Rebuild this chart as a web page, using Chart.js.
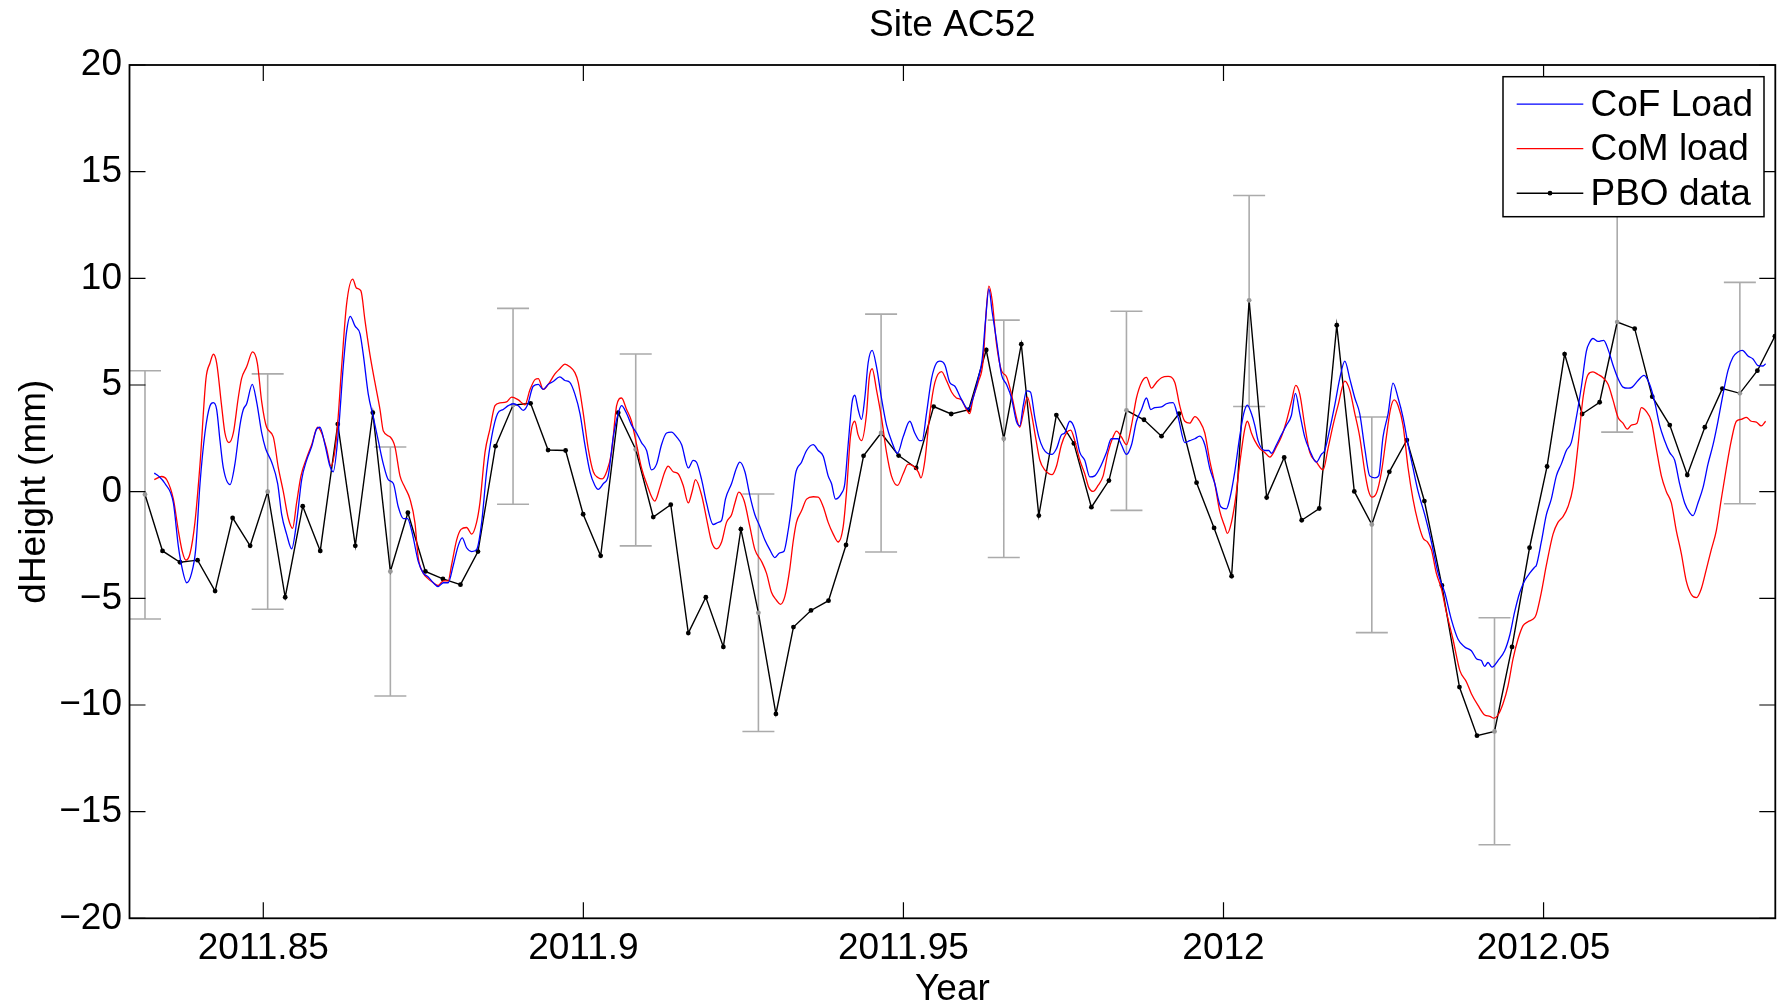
<!DOCTYPE html>
<html><head><meta charset="utf-8">
<script src="https://cdn.jsdelivr.net/npm/chart.js@4.4.1/dist/chart.umd.min.js"></script>
<style>html,body{margin:0;padding:0;background:#fff;}canvas{display:block;}</style>
</head><body>
<canvas id="c" width="1781" height="1001"></canvas>
<script>
// ---- data ----
const pboStart = 2011.83152;      // decimal year of first daily PBO solution
const dayLen = 1 / 365.25;        // one day in years

const pboValues = [-0.13,-2.78,-3.31,-3.21,-4.66,-1.23,-2.54,0.00,-4.95,-0.68,
 -2.78,3.17,-2.54,3.70,-3.74,-0.99,-3.74,-4.09,-4.36,-2.81,
 2.13,4.06,4.14,1.95,1.93,-1.06,-3.01,3.70,1.98,-1.19,
 -0.61,-6.63,-4.95,-7.28,-1.76,-5.68,-10.42,-6.35,-5.57,-5.11,
 -2.50,1.68,2.75,1.69,1.11,3.99,3.64,3.84,6.64,2.48,
 6.91,-1.12,3.59,2.26,-0.73,0.52,3.81,3.37,2.60,3.66,
 0.42,-1.70,-3.96,8.97,-0.28,1.60,-1.34,-0.79,7.80,0.01,
 -1.54,0.93,2.42,-0.44,-4.40,-9.16,-11.44,-11.24,-7.28,-2.63,
 1.18,6.45,3.64,4.19,7.95,7.64,4.45,3.12,0.78,3.02,
 4.83,4.61,5.67,7.29];

const errDays = [0,7,14,21,28,35,42,49,56,63,70,77,84,91];
const errLow  = [-5.97,-5.51,-9.58,-0.59,-2.54,-11.24,-2.83,-3.09,-0.88,3.99,-6.61,-16.55,2.79,-0.57];
const errHigh = [5.67,5.52,2.09,8.59,6.45,-0.11,8.32,8.04,8.46,13.88,3.50,-5.91,13.0,9.81];

const cofDays = [0.53,0.76,1.14,1.62,1.90,2.13,2.38,2.66,2.89,3.14,3.42,3.71,3.90,4.09,4.28,4.47,4.85,5.13,5.42,5.61,5.80,6.12,6.37,6.66,6.88,7.23,7.57,7.80,8.08,8.37,8.65,8.94,9.22,9.51,9.79,9.98,10.27,10.55,10.74,11.03,11.31,11.50,11.71,11.98,12.27,12.46,12.74,13.03,13.31,13.60,13.88,14.17,14.45,14.74,14.98,15.21,
15.31,15.59,15.88,16.16,16.45,16.73,17.02,17.30,17.59,17.87,18.10,18.35,18.64,18.92,19.21,19.49,19.78,20.12,20.44,20.73,21.01,21.30,21.58,21.83,22.15,22.44,22.72,23.01,23.29,23.67,23.96,24.24,24.53,24.82,25.10,25.39,25.67,25.86,26.15,26.43,26.72,27.00,27.19,27.48,27.76,28.05,28.33,28.62,28.90,29.19,29.47,29.76,30.04,30.33,30.62,31.00,
31.28,31.47,31.76,32.04,32.42,32.71,32.90,33.12,33.47,33.75,33.94,34.23,34.51,34.80,35.08,35.37,35.65,35.94,36.22,36.45,36.70,36.89,37.12,37.46,37.75,38.13,38.41,38.70,38.98,39.17,39.40,39.74,39.93,40.12,40.35,40.50,40.69,40.88,41.07,41.26,41.49,41.74,42.02,42.31,42.59,42.94,43.26,43.64,43.92,44.21,44.34,44.59,44.88,45.16,45.35,45.64,45.92,46.21,46.49,46.78,46.97,
47.25,47.54,47.77,47.96,48.15,48.34,48.58,48.87,49.15,49.44,49.72,49.91,50.11,50.30,50.52,50.77,51.00,51.25,51.49,51.76,52.01,52.29,52.48,52.77,53.05,53.34,53.62,53.91,54.19,54.48,54.86,55.14,55.52,55.71,56.00,56.29,56.57,56.86,57.14,57.39,57.62,58.00,58.28,58.66,58.95,59.33,59.61,59.90,60.18,60.47,60.75,61.04,61.38,61.70,61.89,62.18,62.46,62.69,62.90,63.13,63.32,
63.51,63.89,64.12,64.27,64.56,64.84,65.13,65.41,65.64,65.89,66.17,66.46,66.84,67.12,67.31,67.60,67.88,68.17,68.46,68.74,69.03,69.31,69.60,69.88,70.17,70.39,70.64,70.93,71.21,71.50,71.78,72.07,72.35,72.64,73.02,73.40,73.78,74.16,74.54,74.92,75.30,75.68,75.97,76.25,76.44,76.63,76.86,77.20,77.58,77.87,78.15,78.44,78.72,79.01,79.29,
79.39,79.67,79.96,80.24,80.53,80.81,81.10,81.38,81.67,81.96,82.24,82.43,82.62,82.91,83.23,83.48,83.76,84.05,84.33,84.62,84.86,85.19,85.53,85.85,86.14,86.42,86.71,86.99,87.28,87.56,87.85,88.14,88.33,88.61,88.90,89.18,89.47,89.75,90.04,90.32,90.61,90.89,91.14,91.46,91.75,92.03,92.32,92.47];
const cofValues = [0.87,0.74,0.38,-0.53,-2.54,-3.63,-4.27,-3.82,-2.72,0.38,2.75,4.03,4.17,3.85,2.39,1.11,0.33,1.29,3.12,3.85,4.12,5.03,4.21,2.75,2.02,1.38,0.38,-1.08,-1.99,-2.68,-1.44,0.56,1.47,2.11,2.93,3.02,2.20,1.20,0.93,2.75,5.85,7.49,8.22,7.77,7.40,6.40,4.57,3.48,2.39,1.29,0.56,0.38,-0.71,-1.26,-1.26,-1.81,
-2.17,-3.27,-3.82,-4.00,-4.27,-4.45,-4.27,-4.27,-3.45,-2.54,-2.17,-2.63,-2.81,-2.72,-1.44,0.93,2.57,3.66,3.85,4.03,4.12,4.03,3.81,4.07,4.94,5.03,4.79,5.03,5.16,5.38,5.21,5.12,4.57,3.66,2.20,0.93,0.29,0.11,0.38,0.74,2.57,3.66,4.03,3.66,3.12,2.75,2.30,1.93,1.02,1.29,2.20,2.75,2.79,2.57,2.20,1.11,
1.47,1.38,0.56,-0.53,-1.54,-1.44,-1.35,-0.35,0.38,1.11,1.38,0.93,-0.17,-1.08,-1.63,-2.27,-2.72,-3.09,-2.87,-2.81,-1.81,-0.71,0.84,1.38,1.93,2.20,1.93,1.66,0.74,0.38,-0.35,-0.08,0.38,2.20,4.21,4.52,3.85,3.39,4.39,6.03,6.62,5.85,4.39,3.12,2.39,1.80,2.57,3.30,2.75,2.39,2.39,3.66,5.30,6.03,6.12,5.94,5.12,4.94,4.48,4.03,3.85,
4.39,5.30,6.22,8.04,9.50,8.41,7.13,5.49,5.03,4.39,3.30,3.08,4.03,4.72,4.67,3.48,2.57,2.02,1.80,1.75,2.02,2.66,2.75,3.30,2.93,1.84,1.47,0.69,0.74,1.11,1.84,2.48,2.48,2.20,1.75,2.20,3.30,3.85,4.39,3.85,3.94,3.97,4.12,4.17,3.48,2.30,2.39,2.48,2.60,2.20,1.11,0.38,-0.71,-0.81,-0.35,0.93,2.57,3.66,4.06,3.66,3.12,
2.39,1.93,1.93,1.80,2.20,2.66,3.12,3.57,4.61,3.66,2.57,1.93,1.38,1.75,1.93,2.93,4.03,5.30,6.12,5.30,4.39,3.66,2.02,0.74,0.65,0.74,2.57,3.66,5.09,4.39,3.48,2.20,1.11,0.01,-1.08,-2.36,-3.82,-4.73,-6.00,-6.92,-7.28,-7.46,-7.83,-7.92,-8.19,-8.01,-8.23,-7.92,-7.46,-6.73,-5.64,-4.73,-4.18,-3.82,-3.54,
-3.45,-2.36,-1.08,-0.35,0.74,1.29,1.93,2.30,3.48,4.94,6.58,7.00,7.18,7.04,7.09,6.67,5.94,5.30,4.90,4.85,4.90,5.21,5.45,5.03,4.21,3.12,2.39,1.84,1.47,0.38,-0.53,-0.99,-1.12,-0.53,0.20,1.29,2.20,3.30,4.57,5.67,6.31,6.55,6.62,6.36,6.22,5.91,5.89,6.00];

const comDays = [0.53,0.95,1.24,1.62,1.90,2.13,2.34,2.57,2.85,3.14,3.48,3.71,3.90,4.09,4.37,4.56,4.79,5.04,5.32,5.51,5.80,6.14,6.41,6.66,6.94,7.32,7.61,7.89,8.18,8.42,8.65,8.90,9.22,9.51,9.85,10.08,10.36,10.61,10.93,11.22,11.50,11.85,12.07,12.32,12.55,12.84,13.12,13.41,13.60,13.98,14.26,14.55,14.83,15.12,15.40,
15.59,15.88,16.16,16.45,16.73,17.02,17.30,17.49,17.78,18.03,18.35,18.64,18.92,19.11,19.40,19.68,19.97,20.25,20.63,20.92,21.30,21.68,21.96,22.25,22.44,22.72,23.01,23.39,23.67,23.96,24.24,24.53,24.72,25.01,25.29,25.58,25.86,26.09,26.34,26.62,26.91,27.19,27.48,27.76,28.05,28.33,28.62,29.09,29.38,29.66,29.85,30.14,30.42,30.71,31.00,
31.22,31.41,31.76,32.04,32.33,32.61,32.90,33.18,33.47,33.66,33.88,34.19,34.51,34.80,35.18,35.46,35.75,36.03,36.26,36.51,36.79,36.98,37.17,37.46,37.75,38.13,38.41,38.70,38.98,39.27,39.55,39.84,40.03,40.25,40.50,40.69,40.88,41.17,41.32,41.49,41.74,42.02,42.31,42.59,42.94,43.26,43.54,43.83,44.12,44.27,44.50,44.78,45.07,45.45,45.73,46.02,46.30,46.59,46.87,47.06,
47.25,47.54,47.82,48.01,48.15,48.34,48.58,48.87,49.15,49.44,49.72,49.91,50.11,50.35,50.58,50.81,51.06,51.34,51.76,52.01,52.29,52.58,52.82,53.05,53.34,53.62,53.85,54.10,54.38,54.67,54.95,55.24,55.43,55.71,56.00,56.29,56.57,56.86,57.14,57.43,57.71,58.00,58.38,58.76,59.04,59.33,59.61,59.90,60.18,60.47,60.75,61.04,61.32,61.61,61.76,61.99,62.22,62.46,62.75,62.90,63.13,63.32,
63.61,63.89,64.18,64.56,64.84,65.13,65.41,65.66,65.89,66.17,66.46,66.84,67.22,67.50,67.79,68.07,68.46,68.74,69.03,69.31,69.60,69.82,70.01,70.26,70.55,70.83,71.06,71.27,71.50,71.78,72.07,72.35,72.64,72.92,73.17,73.40,73.68,73.97,74.25,74.63,75.02,75.40,75.68,76.06,76.44,76.73,76.97,77.20,77.49,77.77,78.06,78.34,78.63,78.91,79.29,
79.39,79.67,79.96,80.34,80.62,80.91,81.19,81.48,81.77,82.05,82.34,82.62,82.91,83.19,83.48,83.76,84.05,84.33,84.58,84.81,85.13,85.38,85.66,85.95,86.23,86.52,86.80,87.09,87.37,87.66,87.94,88.23,88.52,88.80,89.09,89.37,89.66,89.94,90.23,90.51,90.80,91.08,91.37,91.65,91.94,92.22,92.47];
const comValues = [0.56,0.71,0.56,-0.35,-1.81,-2.81,-3.21,-2.90,-1.44,1.29,5.30,6.03,6.44,6.03,4.03,2.75,2.30,2.75,4.39,5.30,5.85,6.55,6.03,4.21,3.02,2.57,1.11,0.01,-1.26,-1.72,-0.53,0.74,1.57,2.20,3.02,2.75,2.02,1.20,2.57,5.85,8.77,9.96,9.54,9.41,8.04,6.40,5.12,3.85,2.84,2.57,2.11,0.74,0.20,-0.35,-1.44,
-3.09,-3.82,-4.09,-4.27,-4.40,-4.18,-4.18,-3.45,-2.27,-1.77,-1.68,-1.99,-1.44,-0.53,1.84,2.93,4.03,4.16,4.21,4.43,4.30,4.07,4.76,5.25,5.30,4.79,5.03,5.52,5.76,5.98,5.85,5.58,5.12,3.66,2.02,0.93,0.65,0.60,0.93,1.84,4.03,4.39,3.85,3.30,2.20,1.11,0.38,-0.44,0.20,0.93,1.20,0.93,0.84,0.29,-0.53,
0.01,0.56,-0.17,-1.26,-2.36,-2.68,-2.36,-1.44,-1.08,-0.53,-0.02,-0.44,-1.63,-2.72,-3.27,-3.82,-4.73,-5.09,-5.28,-4.91,-3.63,-2.36,-1.44,-0.90,-0.35,-0.24,-0.26,-0.71,-1.44,-1.99,-2.36,-1.63,0.01,2.57,3.30,2.66,2.39,3.66,5.30,5.76,4.76,3.48,1.84,0.74,0.29,0.84,1.29,1.20,0.93,0.65,1.47,3.66,5.12,5.63,5.21,4.67,4.39,4.30,3.85,3.66,
4.39,5.12,6.12,8.59,9.63,8.95,6.95,5.67,5.40,4.57,3.48,3.02,3.66,4.43,3.66,2.57,1.47,1.02,0.80,1.20,2.20,2.75,2.88,2.39,1.47,0.84,0.20,0.01,0.29,0.74,1.84,2.57,2.84,2.57,2.20,3.12,4.39,5.12,5.36,4.85,5.12,5.34,5.40,5.12,4.03,3.30,3.21,3.52,3.30,2.75,1.47,0.38,-0.90,-1.63,-1.96,-1.44,-0.35,1.29,2.93,3.30,2.75,2.39,
2.02,1.84,1.62,2.11,2.57,3.30,4.21,4.98,4.57,3.12,1.84,1.38,1.02,2.02,3.12,4.03,5.18,4.76,3.66,2.57,0.93,0.01,-0.26,-0.08,0.93,2.57,3.85,4.30,4.03,3.12,1.11,-0.35,-1.44,-2.17,-2.36,-2.72,-3.82,-4.55,-5.64,-6.92,-8.38,-8.92,-9.47,-10.02,-10.47,-10.53,-10.62,-10.47,-9.93,-9.11,-7.83,-6.92,-6.28,-6.10,-5.91,
-5.73,-4.73,-3.45,-1.99,-1.44,-1.17,-0.71,0.20,2.20,4.39,5.49,5.61,5.49,5.34,5.03,4.30,3.48,3.21,2.93,3.12,3.21,3.94,3.76,3.30,2.02,0.74,0.01,-0.53,-1.81,-2.90,-4.18,-4.82,-4.97,-4.55,-3.63,-2.72,-1.81,-0.35,1.11,2.39,3.30,3.39,3.48,3.30,3.26,3.08,3.30];

const xTickValues = [2011.85, 2011.9, 2011.95, 2012, 2012.05];
const xTickLabels = ['2011.85', '2011.9', '2011.95', '2012', '2012.05'];
const yTickValues = [-20, -15, -10, -5, 0, 5, 10, 15, 20];
const yTickLabels = ['\u221220', '\u221215', '\u221210', '\u22125', '0', '5', '10', '15', '20'];
const X_MIN = 2011.8291, X_MAX = 2012.0862;

// ---- build ----
const FONT = '"Liberation Sans", Arial, Helvetica, sans-serif';
const FS = 37;
Chart.defaults.font.family = FONT;
Chart.defaults.color = '#000';

const toYear = d => pboStart + d * dayLen;
const cofData = cofDays.map((d, i) => ({ x: toYear(d), y: cofValues[i] }));
const comData = comDays.map((d, i) => ({ x: toYear(d), y: comValues[i] }));
const pboData = pboValues.map((v, i) => ({ x: toYear(i), y: v }));
const pboPointColors = pboValues.map((v, i) => errDays.includes(i) ? '#999999' : '#000000');

const errorBarPlugin = {
  id: 'errorBars',
  beforeDatasetsDraw(chart) {
    const { ctx, chartArea: a, scales: { x, y } } = chart;
    ctx.save();
    ctx.beginPath(); ctx.rect(a.left, a.top, a.right - a.left, a.bottom - a.top); ctx.clip();
    ctx.strokeStyle = '#ababab'; ctx.lineWidth = 1.6;
    ctx.beginPath();
    errDays.forEach((d, k) => {
      const px = x.getPixelForValue(toYear(d));
      const pl = y.getPixelForValue(errLow[k]);
      const ph = y.getPixelForValue(errHigh[k]);
      ctx.moveTo(px, pl); ctx.lineTo(px, ph);
      ctx.moveTo(px - 16, pl); ctx.lineTo(px + 16, pl);
      ctx.moveTo(px - 16, ph); ctx.lineTo(px + 16, ph);
    });
    ctx.stroke();
    ctx.restore();
  }
};

const framePlugin = {
  id: 'frameLegend',
  afterDraw(chart) {
    const { ctx, chartArea: a, scales: { x, y } } = chart;
    ctx.save();
    ctx.strokeStyle = '#000'; ctx.lineWidth = 1.2;
    ctx.beginPath();
    xTickValues.forEach(v => {
      const px = x.getPixelForValue(v);
      ctx.moveTo(px, a.bottom); ctx.lineTo(px, a.bottom - 16);
      ctx.moveTo(px, a.top); ctx.lineTo(px, a.top + 16);
    });
    yTickValues.forEach(v => {
      const py = y.getPixelForValue(v);
      ctx.moveTo(a.left, py); ctx.lineTo(a.left + 16, py);
      ctx.moveTo(a.right, py); ctx.lineTo(a.right - 16, py);
    });
    ctx.stroke();
    ctx.lineWidth = 1.8;
    ctx.strokeRect(a.left, a.top, a.right - a.left, a.bottom - a.top);

    // legend box
    const bw = 261, bh = 140;
    const bx = a.right - 11.3 - bw, by = a.top + 11.7;
    ctx.fillStyle = '#fff';
    ctx.fillRect(bx, by, bw, bh);
    ctx.lineWidth = 1.5; ctx.strokeStyle = '#000';
    ctx.strokeRect(bx, by, bw, bh);
    const rows = [27.5, 72, 116.5];
    ctx.font = FS + 'px ' + FONT;
    ctx.textBaseline = 'middle'; ctx.textAlign = 'left';
    chart.data.datasets.forEach((ds, i) => {
      const ry = by + rows[i];
      ctx.strokeStyle = ds.borderColor; ctx.lineWidth = ds.borderWidth;
      ctx.beginPath(); ctx.moveTo(bx + 13.7, ry); ctx.lineTo(bx + 80.3, ry); ctx.stroke();
      if (ds.pointRadius > 0) {
        ctx.fillStyle = '#000';
        ctx.beginPath(); ctx.arc(bx + 47, ry, ds.pointRadius, 0, Math.PI * 2); ctx.fill();
      }
      ctx.fillStyle = '#000';
      ctx.fillText(ds.label, bx + 87.5, ry + 1.5);
    });
    ctx.restore();
  }
};

new Chart(document.getElementById('c'), {
  type: 'line',
  data: {
    datasets: [
      { label: 'CoF Load', data: cofData, borderColor: '#0000ff', borderWidth: 1.3, pointRadius: 0, cubicInterpolationMode: 'monotone' },
      { label: 'CoM load', data: comData, borderColor: '#ff0000', borderWidth: 1.3, pointRadius: 0, cubicInterpolationMode: 'monotone' },
      { label: 'PBO data', data: pboData, borderColor: '#000000', borderWidth: 1.4, pointRadius: 2.4, pointBorderWidth: 0,
        pointBackgroundColor: pboPointColors, tension: 0 }
    ]
  },
  options: {
    responsive: false, animation: false, devicePixelRatio: 1,
    layout: { padding: { left: 0, right: 5.7, top: 0, bottom: 0 } },
    plugins: {
      legend: { display: false },
      tooltip: { enabled: false },
      title: { display: true, fullSize: false, text: 'Site AC52', color: '#000',
        font: { size: FS, weight: 'normal', lineHeight: 1.2 }, padding: { top: 3.3, bottom: 17.3 } }
    },
    scales: {
      x: {
        type: 'linear', min: X_MIN, max: X_MAX,
        grid: { display: false, drawTicks: false }, border: { display: false },
        afterBuildTicks: s => { s.ticks = xTickValues.map(v => ({ value: v })); },
        ticks: { autoSkip: false, maxRotation: 0, padding: 8.6, color: '#000',
          font: { size: FS, lineHeight: 1.2 }, callback: (v, i) => xTickLabels[i] },
        title: { display: true, text: 'Year', color: '#000', font: { size: FS, lineHeight: 0.6 }, padding: { top: 0, bottom: 0.5 } },
        afterFit: s => { s.height = 82.7; }
      },
      y: {
        type: 'linear', min: -20, max: 20,
        grid: { display: false, drawTicks: false }, border: { display: false },
        afterBuildTicks: s => { s.ticks = yTickValues.map(v => ({ value: v })); },
        ticks: { autoSkip: false, padding: 7.5, color: '#000',
          font: { size: FS, lineHeight: 1.2 }, callback: (v, i) => yTickLabels[i] },
        title: { display: true, text: 'dHeight (mm)', color: '#000', font: { size: FS, lineHeight: 1.2 }, padding: { top: 12.3, bottom: 0 } },
        afterFit: s => { s.width = 129.5; }
      }
    }
  },
  plugins: [errorBarPlugin, framePlugin]
});
</script>
</body></html>
